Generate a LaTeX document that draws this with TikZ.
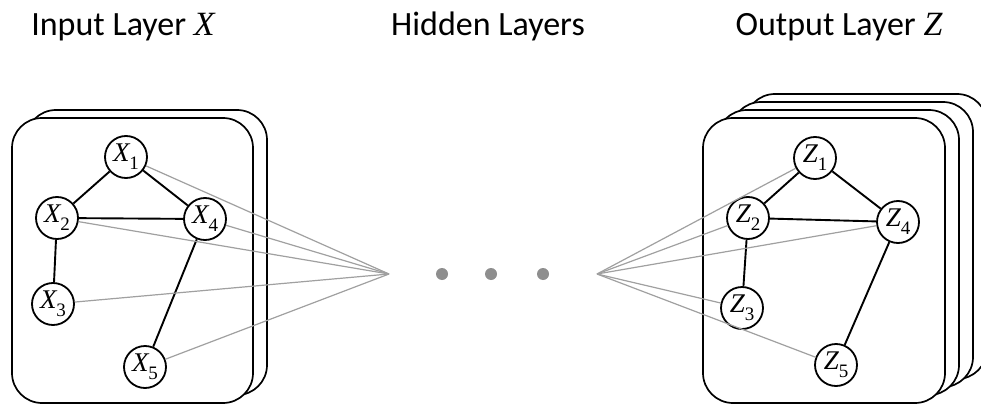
\documentclass[tikz,border=0pt]{standalone}
\usepackage{fontspec}
\setmainfont{Carlito}
\newfontfamily\varfont{Liberation Serif}
% italic variable with an upright subscript index
\newcommand\var[2]{{\varfont\itshape #1}\raisebox{-0.3em}{\fontsize{19}{19}\selectfont\varfont #2}}
\definecolor{fanline}{HTML}{A0A0A0}
\definecolor{dotgrey}{HTML}{8E8E8E}
\tikzset{
  layerbox/.style={draw=black, line width=1.7pt, rounded corners=30pt, fill=white},
  vertex/.style={circle, draw=black, line width=1.8pt, fill=white, minimum size=42pt, inner sep=0pt,
                 font=\fontsize{27}{27}\selectfont},
  edge/.style={draw=black, line width=1.9pt},
  fan/.style={draw=fanline, line width=1.2pt},
  title/.style={anchor=base, font=\fontsize{34}{40}\selectfont},
  hdot/.style={circle, fill=dotgrey, minimum size=12pt, inner sep=0pt}
}
\begin{document}
\begin{tikzpicture}[x=1pt, y=-1pt]
  \useasboundingbox (0,0) rectangle (981,406);
  \clip (0,0) rectangle (981,406);

  % titles
  \node[title] (tin)  at (123,36) {Input Layer {\varfont\itshape X}};
  \node[title] (thid) at (488,36) {Hidden Layers};
  \node[title] (tout) at (839,36) {Output Layer {\varfont\itshape Z}};

  % input layer: two stacked graph frames
  \draw[layerbox] (26,110) rectangle (267,395);
  \draw[layerbox] (12,118) rectangle (253,403);

  % output layer: four stacked graph frames
  \foreach \k in {3,2,1,0} {
    \draw[layerbox] ({703+14*\k},{118-8*\k}) rectangle ({945+14*\k},{403-8*\k});
  }

  % input graph
  \node[vertex] (x1) at (126,157) {\var{X}{1}};
  \node[vertex] (x2) at (57,218)  {\var{X}{2}};
  \node[vertex] (x4) at (205,219) {\var{X}{4}};
  \node[vertex] (x3) at (53,304)  {\var{X}{3}};
  \node[vertex] (x5) at (145,367) {\var{X}{5}};

  % output graph
  \node[vertex] (z1) at (815,158) {\var{Z}{1}};
  \node[vertex] (z2) at (748,218) {\var{Z}{2}};
  \node[vertex] (z4) at (898,222) {\var{Z}{4}};
  \node[vertex] (z3) at (742,308) {\var{Z}{3}};
  \node[vertex] (z5) at (836,365) {\var{Z}{5}};

  \draw[edge] (x1) -- (x2);
  \draw[edge] (x1) -- (x4);
  \draw[edge] (x2) -- (x4);
  \draw[edge] (x2) -- (x3);
  \draw[edge] (x4) -- (x5);

  \draw[edge] (z1) -- (z2);
  \draw[edge] (z1) -- (z4);
  \draw[edge] (z2) -- (z4);
  \draw[edge] (z2) -- (z3);
  \draw[edge] (z4) -- (z5);

  % fan-in and fan-out towards the hidden layers
  \coordinate (fin)  at (389,274);
  \coordinate (fout) at (597,274);
  \foreach \n in {x1,x2,x3,x4,x5} { \draw[fan] (\n) -- (fin); }
  \foreach \n in {z1,z2,z3,z4,z5} { \draw[fan] (fout) -- (\n); }

  % hidden layers
  \node[hdot] (h1) at (442,274) {};
  \node[hdot] (h2) at (491,274) {};
  \node[hdot] (h3) at (543,274) {};
\end{tikzpicture}
\end{document}
